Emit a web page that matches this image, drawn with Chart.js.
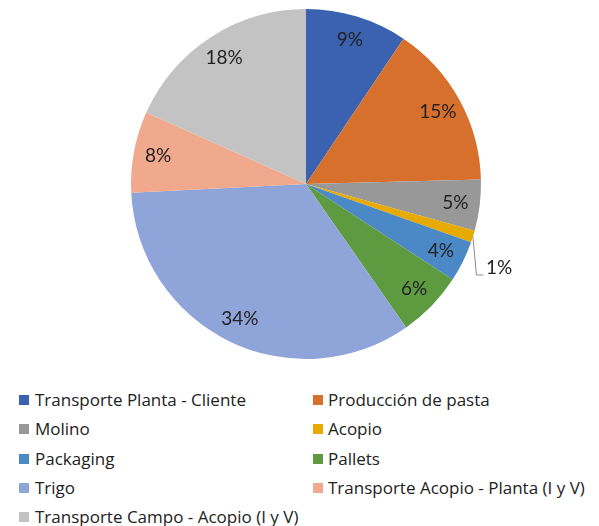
<!DOCTYPE html>
<html><head><meta charset="utf-8">
<script src="https://cdn.jsdelivr.net/npm/chart.js@4/dist/chart.umd.min.js"></script>
<style>
html,body{margin:0;padding:0;background:#fff;}
#wrap{position:relative;width:599px;height:370px;}
#legend{position:absolute;left:0;top:390px;width:599px;font-family:"Open Sans",Lato,sans-serif;font-size:17px;color:#222;}
.item{position:absolute;white-space:nowrap;line-height:20px;}
.sw{position:absolute;width:10px;height:10px;top:5px;}
.tx{position:absolute;top:0;}
</style></head>
<body>
<div id="wrap"><canvas id="c" width="599" height="370"></canvas></div>
<div id="legend"></div>
<script>
const categories = ["Transporte Planta - Cliente","Producción de pasta","Molino","Acopio","Packaging","Pallets","Trigo","Transporte Acopio - Planta (I y V)","Transporte Campo - Acopio (I y V)"];
const values = [9.4,15.2,4.7,1.1,3.8,6.1,33.9,7.5,18.3];
const colors = ["#3A62B0","#D6702C","#989898","#E6AA00","#4A88C6","#5E9A3F","#8FA4D8","#F0A98C","#C3C3C3"];

const labelPlugin = {
  id:'pctLabels',
  afterDatasetsDraw(chart){
    const ctx = chart.ctx;
    const meta = chart.getDatasetMeta(0);
    const total = values.reduce((a,b)=>a+b,0);
    ctx.save();
    ctx.font = '19px Lato, "Open Sans", sans-serif';
    ctx.fillStyle = '#222';
    meta.data.forEach((arc,i)=>{
      const mid = (arc.startAngle+arc.endAngle)/2;
      const pct = values[i]/total*100;
      const txt = Math.round(pct) + '%';
      if (pct < 2) {
        const px = arc.x + Math.cos(mid)*arc.outerRadius;
        const py = arc.y + Math.sin(mid)*arc.outerRadius;
        ctx.strokeStyle = '#8c8c8c';
        ctx.lineWidth = 1;
        ctx.beginPath();
        ctx.moveTo(px, py);
        ctx.lineTo(px+3.5, py+38.5);
        ctx.lineTo(px+10.5, py+38.5);
        ctx.stroke();
        ctx.textAlign='left'; ctx.textBaseline='middle';
        ctx.fillText(txt, px+13, py+31);
      } else {
        const r = arc.outerRadius*0.86;
        ctx.textAlign='center'; ctx.textBaseline='middle';
        ctx.fillText(txt, arc.x + Math.cos(mid)*r, arc.y + Math.sin(mid)*r);
      }
    });
    ctx.restore();
  }
};

new Chart(document.getElementById('c'), {
  type:'pie',
  data:{labels:categories, datasets:[{data:values, backgroundColor:colors, borderWidth:0}]},
  options:{
    responsive:false, animation:false,
    layout:{padding:{top:9,bottom:11,left:131,right:118}},
    plugins:{legend:{display:false},tooltip:{enabled:false}}
  },
  plugins:[labelPlugin]
});

const leg = document.getElementById('legend');
const colX = [[19,35],[313,328]];
categories.forEach((name,i)=>{
  const col = i%2, row = Math.floor(i/2);
  const d = document.createElement('div');
  d.className='item';
  d.style.top = (row*29.3)+'px';
  d.style.left = '0px';
  d.innerHTML = '<span class="sw" style="left:'+colX[col][0]+'px;background:'+colors[i]+'"></span><span class="tx" style="left:'+colX[col][1]+'px">'+name+'</span>';
  leg.appendChild(d);
});
</script>
</body></html>
